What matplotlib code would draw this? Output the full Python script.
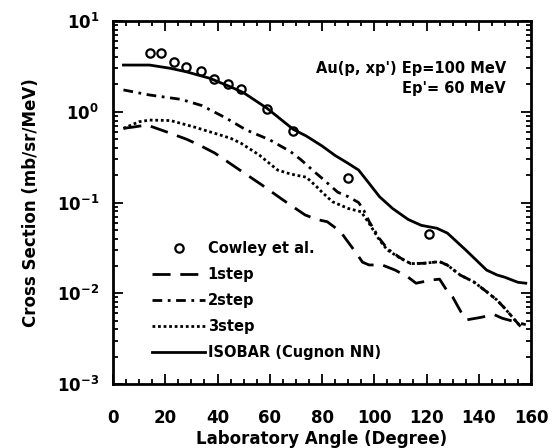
import matplotlib
matplotlib.use('Agg')
import matplotlib.pyplot as plt
from matplotlib.ticker import MultipleLocator, LogLocator, NullFormatter

plt.rcParams['font.family'] = 'DejaVu Sans'
plt.rcParams['font.weight'] = 'bold'
plt.rcParams['mathtext.fontset'] = 'dejavusans'
plt.rcParams['mathtext.default'] = 'bf'

# Au(p, xp') at Ep = 100 MeV, Ep' = 60 MeV
cowley_deg = [14, 18.5, 23.5, 28, 33.5, 38.5, 44, 49, 59, 69, 90, 121]
cowley_val = [4.4, 4.4, 3.5, 3.15, 2.8, 2.3, 2.0, 1.77, 1.07, 0.61, 0.185, 0.045]

step1_deg = [4, 8, 13, 20.5, 28, 33, 39, 48.5, 57, 65, 73.5, 78, 82, 87, 90.5,
             93, 95.5, 98, 103, 108, 113, 116, 122, 125, 128, 130, 133.5,
             135.5, 140.5, 143, 146, 149, 158]
step1_val = [0.656, 0.68, 0.715, 0.6, 0.5, 0.43, 0.35, 0.228, 0.156, 0.107,
             0.073, 0.065, 0.0614, 0.048, 0.035, 0.028, 0.022, 0.0205, 0.0205,
             0.018, 0.015, 0.0129, 0.014, 0.0143, 0.0105, 0.0091, 0.006,
             0.0051, 0.0054, 0.0056, 0.0058, 0.0053, 0.0045]

step2_deg = [4, 14, 26, 34, 43, 51, 60, 68, 72, 77, 80, 86, 90, 94, 96, 98,
             102, 105, 110, 114, 119, 125, 128, 133, 138, 143, 147, 150, 156]
step2_val = [1.74, 1.53, 1.37, 1.17, 0.86, 0.63, 0.49, 0.363, 0.295, 0.219,
             0.185, 0.13, 0.116, 0.10, 0.082, 0.062, 0.040, 0.031, 0.0245,
             0.0212, 0.0214, 0.0223, 0.0204, 0.0158, 0.0134, 0.0104, 0.0084,
             0.0068, 0.0043]

step3_deg = [4, 10, 14, 22, 31, 41, 45, 49, 56, 63, 67, 70, 74, 78, 80, 84, 90,
             95, 98, 102, 105, 110, 114, 119, 125, 128, 133, 138, 143, 147,
             150, 156]
step3_val = [0.656, 0.776, 0.81, 0.80, 0.68, 0.555, 0.51, 0.45, 0.333, 0.228,
             0.21, 0.2, 0.19, 0.149, 0.13, 0.102, 0.086, 0.079, 0.059, 0.0386,
             0.030, 0.0243, 0.0212, 0.0214, 0.0223, 0.0204, 0.0158, 0.0134,
             0.0104, 0.0084, 0.0068, 0.0043]

isobar_deg = [4, 14, 22, 28, 37, 45, 50, 59, 69, 74, 80, 85, 90, 94, 98, 102,
              107, 113, 118, 124, 128, 135, 143, 147, 150, 155, 158]
isobar_val = [3.27, 3.27, 3.01, 2.76, 2.34, 1.88, 1.62, 1.09, 0.64, 0.54,
              0.42, 0.33, 0.27, 0.228, 0.163, 0.116, 0.086, 0.065, 0.056,
              0.052, 0.046, 0.030, 0.018, 0.0159, 0.015, 0.0132, 0.0129]

x_ticks = [0, 20, 40, 60, 80, 100, 120, 140, 160]

fig = plt.figure(figsize=(5.54, 4.48), dpi=100)
ax = fig.add_axes([113 / 554, 1 - 384 / 448, 418 / 554, 363 / 448])

ax.plot(cowley_deg, cowley_val, 'o', ms=6, mfc='white', mec='black', mew=1.6,
        label='Cowley et al.')
ax.plot(step1_deg, step1_val, color='black', lw=2, dashes=(6.5, 3.5),
        label='1step')
ax.plot(step2_deg, step2_val, color='black', lw=2, dashes=(3.5, 2, 1, 2),
        label='2step')
ax.plot(step3_deg, step3_val, color='black', lw=2, dashes=(1, 1),
        label='3step')
ax.plot(isobar_deg, isobar_val, color='black', lw=2, label='ISOBAR (Cugnon NN)')

ax.set_yscale('log')
ax.set_ylim(1e-3, 10)
ax.set_xlim(0, 160)
ax.set_xticks(x_ticks)
ax.xaxis.set_minor_locator(MultipleLocator(5))
ax.yaxis.set_major_locator(LogLocator(base=10, numticks=10))
ax.yaxis.set_minor_locator(LogLocator(base=10, subs=range(2, 10), numticks=10))
ax.yaxis.set_minor_formatter(NullFormatter())

ax.tick_params(which='both', direction='in', top=True, right=True,
               width=1.3, labelsize=12)
ax.tick_params(which='major', length=7)
ax.tick_params(which='minor', length=3.5)
ax.tick_params(axis='x', which='major', pad=18)
ax.tick_params(axis='y', which='major', pad=10)
for spine in ax.spines.values():
    spine.set_linewidth(2)

ax.set_xlabel('Laboratory Angle (Degree)', fontsize=12, fontweight='bold',
              labelpad=2)
ax.set_ylabel('Cross Section (mb/sr/MeV)', fontsize=12, fontweight='bold',
              labelpad=12)

ax.text(0.94, 0.87, "Au(p, xp') Ep=100 MeV", transform=ax.transAxes,
        ha='right', va='center', fontsize=10.5, fontweight='bold')
ax.text(0.94, 0.815, "Ep'= 60 MeV", transform=ax.transAxes,
        ha='right', va='center', fontsize=10.5, fontweight='bold')

leg = ax.legend(loc='upper left', bbox_to_anchor=(0.08, 0.41), frameon=False,
                fontsize=10.5, handlelength=3.6, handletextpad=0.2,
                labelspacing=0.75, borderaxespad=0)
for t in leg.get_texts():
    t.set_fontweight('bold')

fig.savefig('out.png', dpi=100)
